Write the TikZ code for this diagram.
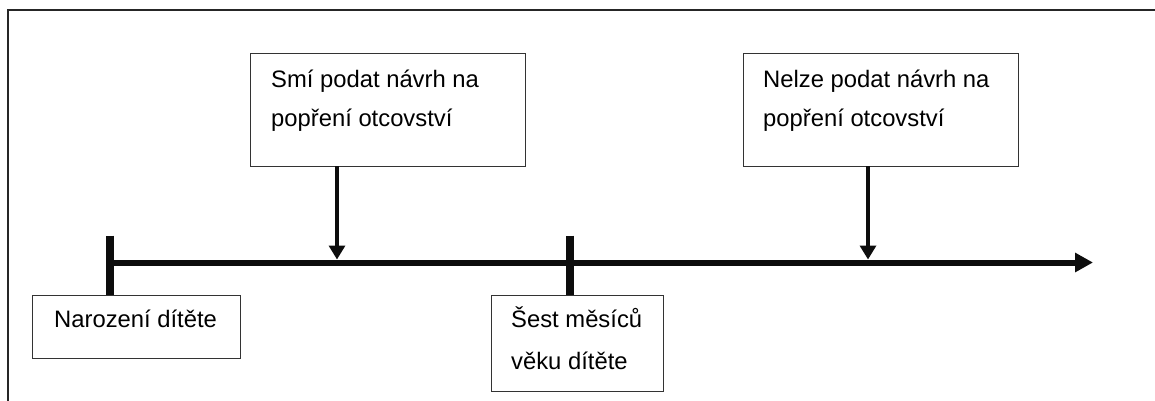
\documentclass[tikz,border=0pt]{standalone}
\usepackage{fontspec}
\setmainfont{Liberation Sans}
\usetikzlibrary{arrows.meta}
\begin{document}
\begin{tikzpicture}[x=1pt,y=-1pt,
  box/.style={draw=black!80, line width=1.2pt, rectangle, inner sep=0pt, anchor=north west},
  lbl/.style={anchor=base west, inner sep=0pt, font=\fontsize{23.8}{40}\selectfont, text=black},
  tick/.style={line width=8pt, draw=black!95},
  timeline/.style={line width=6pt, draw=black!95, -{Triangle[width=18.5pt,length=18pt]}},
  pointer/.style={line width=3.3pt, draw=black!95, -{Triangle[width=16pt,length=14pt]}}]
\useasboundingbox (0,0) rectangle (1155,400);
\begin{scope}
\clip (0,0) rectangle (1155,400);
\draw[line width=1.4pt, draw=black!85] (8,10) rectangle (1170,420);
\end{scope}
% boxes
\node[box, minimum width=275pt, minimum height=113pt] (b1) at (250,53) {};
\node[box, minimum width=275pt, minimum height=113pt] (b2) at (743,53) {};
\node[box, minimum width=208pt, minimum height=63pt] (b3) at (32,295) {};
\node[box, minimum width=172pt, minimum height=96pt] (b4) at (491,295) {};
% texts
\node[lbl] (t1a) at (271,87) {Smí podat návrh na};
\node[lbl] (t1b) at (271,126) {popření otcovství};
\node[lbl] (t2a) at (763,87) {Nelze podat návrh na};
\node[lbl] (t2b) at (763,126) {popření otcovství};
\node[lbl] (t3) at (54,327) {Narození dítěte};
\node[lbl] (t4a) at (511,327) {Šest měsíců};
\node[lbl] (t4b) at (511,369) {věku dítěte};
% timeline
\coordinate (start) at (110,262.5);
\coordinate (end) at (1093,262.5);
\draw[timeline] (start) -- (end);
% ticks
\coordinate (k1) at (110,235.5);
\coordinate (k1b) at (110,295);
\coordinate (k2) at (570,235.5);
\coordinate (k2b) at (570,295);
\draw[tick] (k1) -- (k1b);
\draw[tick] (k2) -- (k2b);
% pointers
\coordinate (p1s) at (337,166);
\coordinate (p1e) at (337,259.5);
\coordinate (p2s) at (868,166);
\coordinate (p2e) at (868,259.5);
\draw[pointer] (p1s) -- (p1e);
\draw[pointer] (p2s) -- (p2e);
\end{tikzpicture}
\end{document}
